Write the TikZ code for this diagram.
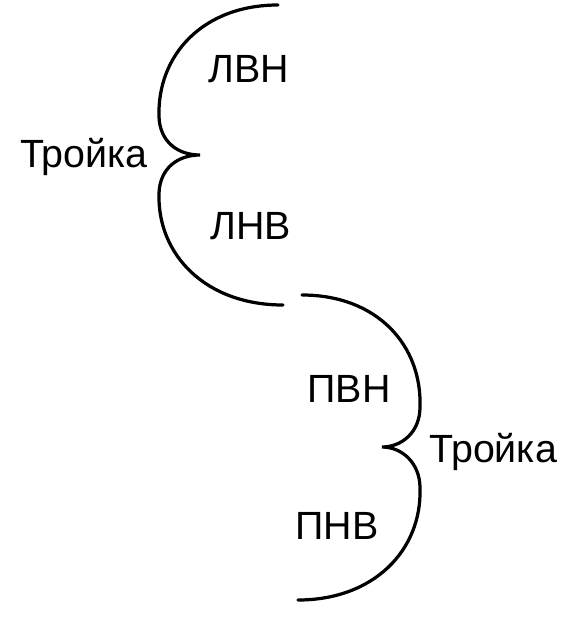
\documentclass[tikz,border=0pt]{standalone}
\usepackage{fontspec}
\setmainfont{Liberation Sans}
\usetikzlibrary{positioning}

\begin{document}
\begin{tikzpicture}[x=0.025cm, y=-0.025cm,
    brace/.style={line width=2.3pt, line cap=round},
    lbl/.style={font=\fontsize{28}{32}\selectfont, inner sep=0pt}]

  \useasboundingbox (0,0) rectangle (570,624);

  \coordinate (Ltop) at (278,5);
  \coordinate (Ltip) at (200,155);
  \coordinate (Lbot) at (283,305);
  \coordinate (Rtop) at (302,295);
  \coordinate (Rtip) at (382,447);
  \coordinate (Rbot) at (298,600);

  \node[lbl] (LVN) at (249,69) {ЛВН};
  \node[lbl] (LNV) at (251,226) {ЛНВ};
  \node[lbl, anchor=east] (T1) at (148,157) {Тройка};
  \node[lbl] (PVN) at (349,389) {ПВН};
  \node[lbl] (PNV) at (337,526) {ПНВ};
  \node[lbl, anchor=west] (T2) at (429,452) {Тройка};

  \draw[brace] (Ltop) .. controls (203,5) and (157,55) .. (159,117)
    .. controls (160,142) and (178,155) .. (Ltip)
    .. controls (178,155) and (160,168) .. (159,193)
    .. controls (157,255) and (206,305) .. (Lbot);
  \draw[brace] (Rtop) .. controls (377,295) and (422,345) .. (420,407)
    .. controls (420,432) and (402,447) .. (Rtip)
    .. controls (402,447) and (420,463) .. (420,488)
    .. controls (422,550) and (374,600) .. (Rbot);
\end{tikzpicture}
\end{document}
